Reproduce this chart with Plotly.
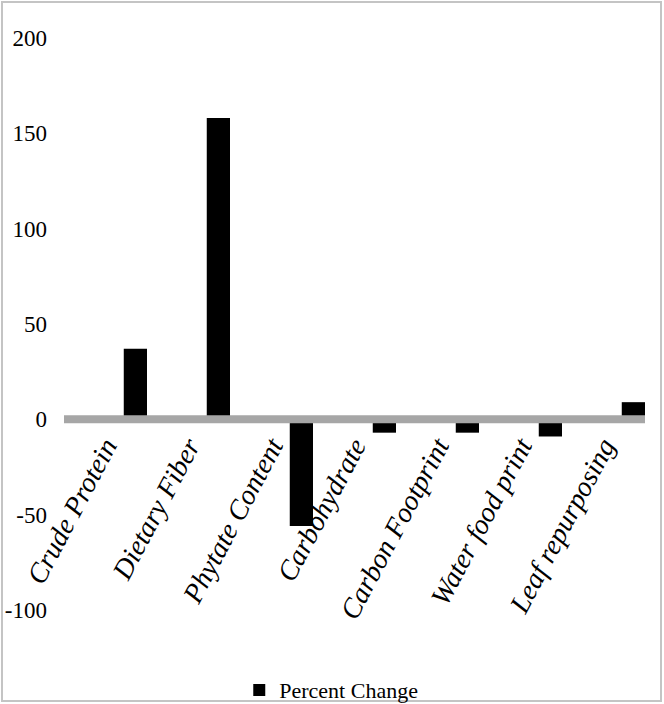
import plotly.graph_objects as go

categories = ["Crude Protein", "Dietary Fiber", "Phytate Content", "Carbohydrate",
              "Carbon Footprint", "Water food print", "Leaf repurposing"]
percent_change = [37, 158, -56, -7, -7, -9, 9]
series_name = "Percent Change"
y_ticks = [-100, -50, 0, 50, 100, 150, 200]

W, H = 664, 704
ml, mr, mt, mb = 64, 19, 38, 94
pw, ph = W - ml - mr, H - mt - mb

fig = go.Figure()
fig.add_trace(go.Bar(
    x=categories, y=percent_change, name=series_name,
    marker=dict(color="black", line=dict(width=0)),
    width=0.28, offset=0.22, showlegend=True,
))

fig.update_layout(
    width=W, height=H,
    margin=dict(l=ml, r=mr, t=mt, b=mb, autoexpand=False),
    paper_bgcolor="white", plot_bgcolor="white",
    font=dict(family="Liberation Serif", color="black"),
    showlegend=True,
    legend=dict(orientation="h", x=0.46, xanchor="center", y=-0.14, yanchor="middle",
                bgcolor="rgba(0,0,0,0)",
                font=dict(size=22, family="Liberation Serif", color="black")),
    xaxis=dict(
        type="category", range=[-0.5, 6.5], showgrid=False, showline=False,
        zeroline=False, ticks="", tickangle=-62, automargin=False,
        tickfont=dict(size=28, family="Liberation Serif", style="italic", color="black"),
        anchor="free", position=100 / 300, ticklabelstandoff=4,
    ),
    yaxis=dict(
        range=[-100, 200], tickvals=y_ticks, ticktext=[str(v) for v in y_ticks],
        showgrid=False, zeroline=False, automargin=False,
        showline=False, ticks="", ticklabelstandoff=16,
        tickfont=dict(size=23, family="Liberation Serif", color="black"),
    ),
    shapes=[
        dict(type="line", xref="paper", yref="y", x0=0, x1=1, y0=0, y1=0,
             line=dict(color="#a6a6a6", width=8), layer="above"),
        dict(type="rect", xref="paper", yref="paper",
             x0=(2 - ml) / pw, x1=(W - 3 - ml) / pw,
             y0=(mt + ph - (H - 3)) / ph, y1=(mt + ph - 2) / ph,
             line=dict(color="#c4c4c4", width=2), layer="below"),
    ],
)

fig.write_html("out.html")
